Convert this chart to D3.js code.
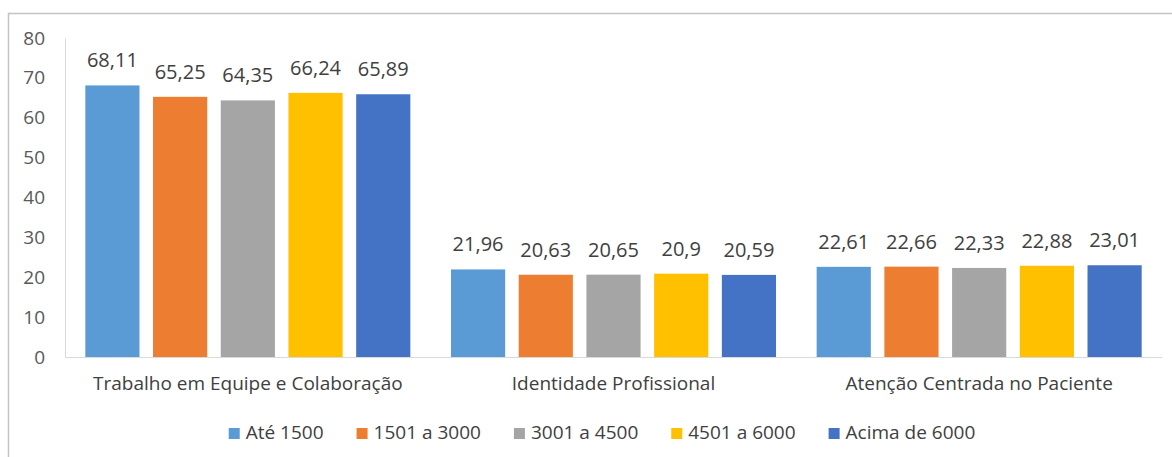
<!DOCTYPE html>
<html>
<head>
<meta charset="utf-8">
<script src="https://cdn.jsdelivr.net/npm/d3@7"></script>
<style>
  html, body { margin: 0; padding: 0; background: #fff; }
  svg { display: block; }
  text { font-family: "Open Sans", sans-serif; }
</style>
</head>
<body>
<svg id="chart" width="1172" height="457"></svg>
<script>
// Categories (domains) and income-range series
const categories = ["Trabalho em Equipe e Colaboração", "Identidade Profissional", "Atenção Centrada no Paciente"];
const seriesNames = ["Até 1500", "1501 a 3000", "3001 a 4500", "4501 a 6000", "Acima de 6000"];
const ate1500     = [68.11, 21.96, 22.61];
const de1501a3000 = [65.25, 20.63, 22.66];
const de3001a4500 = [64.35, 20.65, 22.33];
const de4501a6000 = [66.24, 20.90, 22.88];
const acima6000   = [65.89, 20.59, 23.01];
const yTicks = [0, 10, 20, 30, 40, 50, 60, 70, 80];
const colors = ["#5B9BD5", "#ED7D31", "#A5A5A5", "#FFC000", "#4472C4"];

const seriesValues = [ate1500, de1501a3000, de3001a4500, de4501a6000, acima6000];

const svg = d3.select("#chart");

// Chart frame (top and left edges)
svg.append("path")
  .attr("d", "M8.5,457 L8.5,13.5 L1172,13.5")
  .attr("fill", "none")
  .attr("stroke", "#C4C4C4")
  .attr("stroke-width", 1.5);

const plot = { left: 65, right: 1162, top: 38, bottom: 357 };

const x0 = d3.scaleBand().domain(categories).range([plot.left, plot.right]).padding(0);
const x1 = d3.scaleBand().domain(seriesNames).range([0, x0.bandwidth()])
  .paddingInner(0.2).paddingOuter(0.3);
const y = d3.scaleLinear().domain([0, 80]).range([plot.bottom, plot.top]);

// Y axis: labels only, with a light vertical line
const yAxis = d3.axisLeft(y).tickValues(yTicks).tickSize(0).tickPadding(20);
const yG = svg.append("g").attr("transform", `translate(${plot.left},0)`).call(yAxis);
yG.select(".domain").attr("stroke", "#D9D9D9");
yG.selectAll("text")
  .attr("fill", "#595959")
  .style("font-size", "19px")
  .style("font-family", "Open Sans, sans-serif");

// Bars
const groups = svg.append("g").selectAll("g")
  .data(categories)
  .join("g")
  .attr("transform", d => `translate(${x0(d)},0)`);

const cells = groups.selectAll("g")
  .data((c, ci) => seriesNames.map((s, si) => ({ s, si, v: seriesValues[si][ci] })))
  .join("g");

cells.append("rect")
  .attr("x", d => x1(d.s))
  .attr("width", x1.bandwidth())
  .attr("y", d => y(d.v))
  .attr("height", d => y(0) - y(d.v))
  .attr("fill", d => colors[d.si]);

// Value labels with comma decimal separator
const fmt = v => String(+v.toFixed(2)).replace(".", ",");
cells.append("text")
  .attr("x", d => x1(d.s) + x1.bandwidth() / 2)
  .attr("y", d => y(d.v) - 18)
  .attr("text-anchor", "middle")
  .attr("fill", "#404040")
  .style("font-size", "20px")
  .text(d => fmt(d.v));

// X axis baseline and category labels
const xAxis = d3.axisBottom(x0).tickSize(0).tickPadding(20);
const xG = svg.append("g").attr("transform", `translate(0,${plot.bottom})`).call(xAxis);
xG.select(".domain").attr("stroke", "#D9D9D9");
xG.selectAll("text")
  .attr("fill", "#404040")
  .style("font-size", "19px")
  .style("font-family", "Open Sans, sans-serif");

// Legend
const legend = svg.append("g").attr("transform", "translate(0,439)");
const items = legend.selectAll("g").data(seriesNames).join("g");
items.append("rect").attr("width", 11).attr("height", 11).attr("y", -11)
  .attr("fill", (d, i) => colors[i]);
items.append("text").attr("x", 17).attr("y", 0)
  .attr("fill", "#404040").style("font-size", "19px").text(d => d);
// Lay out items in a centred row
let widths = [];
items.each(function() { widths.push(this.getBBox().width); });
const gap = 33;
const total = d3.sum(widths) + gap * (widths.length - 1);
let cx = 602 - total / 2;
items.attr("transform", (d, i) => {
  const t = `translate(${cx},0)`;
  cx += widths[i] + gap;
  return t;
});
</script>
</body>
</html>
